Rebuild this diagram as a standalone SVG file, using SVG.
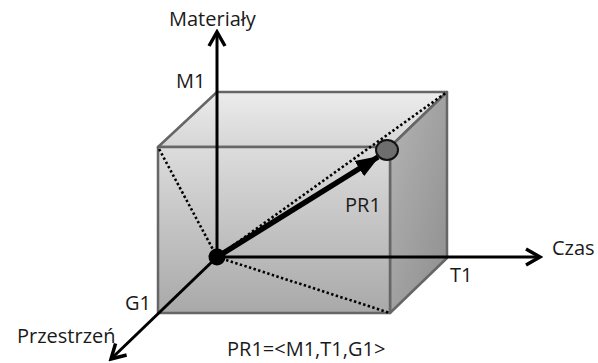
<svg xmlns="http://www.w3.org/2000/svg" width="598" height="363" viewBox="0 0 598 363">
<style>
.edge{stroke:#666;stroke-width:2.5;stroke-linejoin:round}
.axis{stroke:#000;stroke-width:3;fill:none}
.dot{stroke:#000;stroke-width:2.6;stroke-dasharray:2.4 2.4;fill:none}
.lbl{font-family:"Open Sans","Liberation Sans",sans-serif;font-size:20px;fill:#1a1a1a}
</style>
<defs>
<linearGradient id="gFront" x1="0" y1="0" x2="0" y2="1">
<stop offset="0" stop-color="#dcdcdc"/><stop offset="1" stop-color="#a9a9a9"/>
</linearGradient>
<linearGradient id="gTop" x1="0" y1="0" x2="0" y2="1">
<stop offset="0" stop-color="#ececec"/><stop offset="1" stop-color="#d6d6d6"/>
</linearGradient>
<linearGradient id="gRight" x1="0" y1="0" x2="1" y2="1">
<stop offset="0" stop-color="#b4b4b4"/><stop offset="1" stop-color="#8e8e8e"/>
</linearGradient>
<marker id="open" viewBox="0 0 20 20" refX="17" refY="10" markerWidth="20" markerHeight="20" markerUnits="userSpaceOnUse" orient="auto">
<path d="M3,2 L17,10 L3,18" fill="none" stroke="#000" stroke-width="3.5" stroke-linejoin="miter"/>
</marker>
<marker id="solid" viewBox="0 0 24 20" refX="22" refY="10" markerWidth="24" markerHeight="20" markerUnits="userSpaceOnUse" orient="auto">
<path d="M0,1 L24,10 L0,19 Z" fill="#000"/>
</marker>
</defs>
<g id="box">
<polygon class="edge" points="158,147 217,92 447,92 390,147" fill="url(#gTop)"/>
<polygon class="edge" points="390,147 447,92 447,258 390,313" fill="url(#gRight)"/>
<rect class="edge" x="158" y="147" width="232" height="166" fill="url(#gFront)"/>
</g>
<g id="connectors">
<line class="dot" x1="217" y1="257" x2="158" y2="147"/>
<line class="dot" x1="217" y1="257" x2="390" y2="313"/>
<line class="dot" x1="217" y1="257" x2="447" y2="92"/>
<line class="axis" x1="217" y1="257" x2="217" y2="32" marker-end="url(#open)"/>
<line class="axis" x1="217" y1="257" x2="540" y2="257" marker-end="url(#open)"/>
<line class="axis" x1="217" y1="257" x2="111" y2="359" marker-end="url(#open)"/>
<line x1="217" y1="257" x2="378" y2="157" stroke="#000" stroke-width="5.5" marker-end="url(#solid)"/>
</g>
<g id="origin"><circle cx="217" cy="257" r="8.5" fill="#000"/></g>
<g id="point"><ellipse cx="387" cy="150" rx="11" ry="10" fill="#6e6e6e" stroke="#111" stroke-width="2"/></g>
<g id="labels">
<text class="lbl" x="169" y="26">Materiały</text>
<text class="lbl" x="176" y="88">M1</text>
<text class="lbl" x="345" y="212">PR1</text>
<text class="lbl" x="552" y="255">Czas</text>
<text class="lbl" x="450" y="282">T1</text>
<text class="lbl" x="125" y="310">G1</text>
<text class="lbl" x="17" y="343">Przestrzeń</text>
<text class="lbl" x="227" y="356">PR1=&lt;M1,T1,G1&gt;</text>
</g>
</svg>
